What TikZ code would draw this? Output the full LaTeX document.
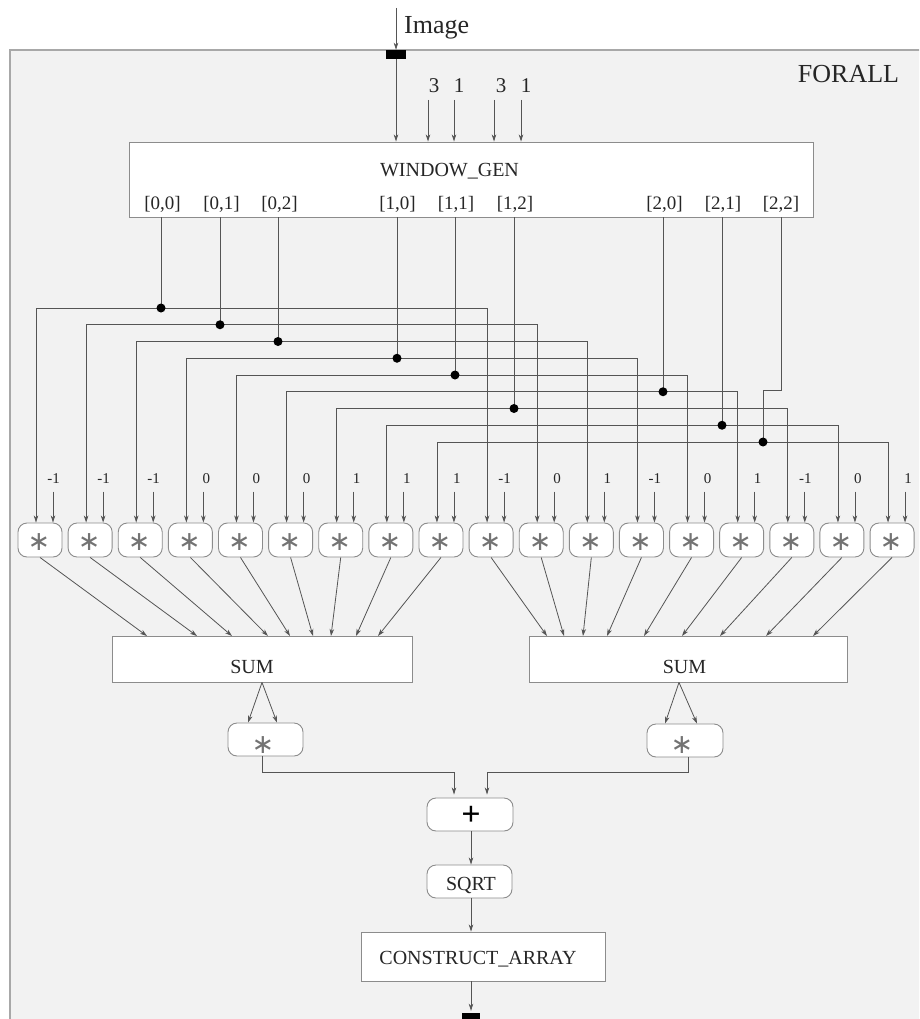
\documentclass[tikz,border=0pt]{standalone}
\usepackage{fontspec}
\setmainfont{Liberation Serif}
\newfontfamily\symfont{DejaVu Sans}
\usetikzlibrary{arrows.meta,calc}
\definecolor{framebg}{HTML}{F2F2F2}
\definecolor{framec}{HTML}{A8A8A8}
\definecolor{wirec}{HTML}{555555}
\definecolor{boxc}{HTML}{8C8C8C}
\definecolor{txtc}{HTML}{262626}
\newcommand\fsz[1]{\fontsize{#1}{#1}\selectfont}
\begin{document}
\begin{tikzpicture}[x=1pt,y=-1pt,
  arr/.style={draw=wirec,line width=0.8pt,-{Stealth[length=7pt,width=4.5pt,inset=2pt]}},
  wire/.style={draw=wirec,line width=0.8pt},
  sqbox/.style={draw=boxc,fill=white,line width=0.9pt,inner sep=0pt},
  rbox/.style={sqbox,rounded corners=9pt},
  lbl/.style={text=txtc,inner sep=0pt,anchor=base},
  jdot/.style={circle,fill=black,inner sep=0pt,minimum size=9pt},
  portsq/.style={fill=black,inner sep=0pt,minimum width=20pt,minimum height=9pt},
  startxt/.style={text=black!55,inner sep=0pt,font=\symfont\fsz{27}}]
\useasboundingbox (0,0) rectangle (919,1019);
\clip (0,0) rectangle (919,1019);
\fill[white] (0,0) rectangle (919,1019);
\filldraw[fill=framebg,draw=framec,line width=1.6pt] (10,50) rectangle (950,1050);

\node[lbl,font=\fsz{26}] (forall) at (848.5,83) {FORALL};
\node[lbl,font=\fsz{26},anchor=base west] (imgt) at (404,34) {Image};

% input port
\node[portsq] (inport) at (396,54.5) {};
\coordinate (imgsrc) at (396,8);
\draw[arr] (imgsrc) -- (inport.north);

% window generator
\node[sqbox,minimum width=684pt,minimum height=75pt] (wg) at (471,179.5) {};
\node[lbl,font=\fsz{20}] (wgt) at (449.5,176) {WINDOW\_GEN};
\draw[arr] (inport.south) -- (inport.south |- wg.north);

\foreach \pv/\lx/\ax [count=\j] in {3/434/428,1/459/454,3/501/494,1/526/521}{
  \node[lbl,font=\fsz{21}] (k\j) at (\lx,93) {\pv};
  \coordinate (ka\j) at (\ax,100);
  \draw[arr] (ka\j) -- (ka\j |- wg.north);
}

\foreach \pt/\px [count=\j] in {{[0,0]}/162.5,{[0,1]}/221.5,{[0,2]}/279.5,{[1,0]}/397.5,{[1,1]}/456,{[1,2]}/515,{[2,0]}/664.5,{[2,1]}/723,{[2,2]}/781}{
  \node[lbl,font=\fsz{19}] (pl\j) at (\px,209.5) {\pt};
}

% multipliers
\foreach \cv [count=\i] in {{\llap{-}1},{\llap{-}1},{\llap{-}1},0,0,0,1,1,1,{\llap{-}1},0,1,{\llap{-}1},0,1,{\llap{-}1},0,1}{
  \pgfmathsetmacro\cx{40+50.12*(\i-1)}
  \node[rbox,minimum width=44pt,minimum height=34pt] (m\i) at (\cx,540) {};
  \node[startxt] (ms\i) at (\cx-1,542) {∗};
  \coordinate (w\i) at ($(m\i.north)+(-4,0)$);
  \coordinate (ca\i) at ($(m\i.north)+(13,-31)$);
  \node[lbl,font=\fsz{15}] (c\i) at (\cx+16,483) {\cv};
  \draw[arr] (ca\i) -- (ca\i |- m\i.north);
}

% distribution wires
\foreach \k/\dx in {1/161,2/220,3/278,4/397,5/455,6/663,7/514,8/722,9/763}{
  \pgfmathsetmacro\dy{308+16.75*(\k-1)}
  \pgfmathtruncatemacro\kk{\k+9}
  \coordinate (dp\k) at (\dx,\dy);
  \draw[arr] (dp\k) -| (w\k);
  \draw[arr] (dp\k) -| (w\kk);
}
\foreach \k in {1,...,8}{
  \draw[wire] (dp\k |- wg.south) -- (dp\k);
}
\coordinate (jog) at (763,390);
\draw[wire] (pl9 |- wg.south) |- (jog) -- (dp9);
\foreach \k in {1,...,9}{
  \node[jdot] (dot\k) at (dp\k) {};
}

% sums
\node[sqbox,minimum width=300pt,minimum height=46pt] (sum1) at (262,659) {};
\node[lbl,font=\fsz{20}] (sum1t) at (252,673.5) {SUM};
\node[sqbox,minimum width=318pt,minimum height=46pt] (sum2) at (688,659) {};
\node[lbl,font=\fsz{20}] (sum2t) at (684.5,673.5) {SUM};

\foreach \tx [count=\i] in {147,197,232,268,290,313,331,356,378,547,564,583,607,644,682,720,766,813}{
  \coordinate (t\i) at (\tx,636);
  \draw[arr] (m\i.south) -- (t\i);
}

% squaring multipliers
\node[rbox,minimum width=75pt,minimum height=33pt] (sq1) at (265.5,739.5) {};
\node[startxt] (sq1s) at (263,745.5) {∗};
\node[rbox,minimum width=76pt,minimum height=33pt] (sq2) at (685,740.5) {};
\node[startxt] (sq2s) at (682,745.5) {∗};

\draw[arr] (sum1.south) -- ($(sq1.north)+(-17.5,0)$);
\draw[arr] (sum1.south) -- ($(sq1.north)+(11.5,0)$);
\coordinate (s2o) at ($(sum2.south)+(-9,0)$);
\draw[arr] (s2o) -- ($(sq2.north)+(-20,0)$);
\draw[arr] (s2o) -- ($(sq2.north)+(12,0)$);

% tail
\node[rbox,minimum width=86pt,minimum height=33pt] (addbox) at (470,814.5) {};
\node[inner sep=0pt,text=black,font=\fsz{34}\bfseries] (addsym) at (471,816) {+};
\node[rbox,minimum width=85pt,minimum height=33pt] (rootbox) at (469.5,881.5) {};
\node[lbl,font=\fsz{20}] (roottxt) at (471,890.5) {SQRT};
\node[sqbox,minimum width=244pt,minimum height=49pt] (cabox) at (483,956.5) {};
\node[lbl,font=\fsz{20}] (catxt) at (478,964.5) {CONSTRUCT\_ARRAY};
\node[portsq,minimum width=18pt] (outport) at (471,1017.5) {};

\coordinate (o1) at ($(sq1.south)+(-3.5,0)$);
\coordinate (o2) at ($(sq2.south)+(3,0)$);
\coordinate (pin1) at ($(addbox.north)+(-16,0)$);
\coordinate (pin2) at ($(addbox.north)+(17,0)$);
\coordinate (row) at (0,772);
\draw[arr,shorten >=3pt] (o1) -- (o1 |- row) -- (pin1 |- row) -- (pin1);
\draw[arr,shorten >=3pt] (o2) -- (o2 |- row) -- (pin2 |- row) -- (pin2);
\coordinate (vx) at (471,0);
\draw[arr] (vx |- addbox.south) -- (vx |- rootbox.north);
\draw[arr] (vx |- rootbox.south) -- (vx |- cabox.north);
\draw[arr,shorten >=2pt] (vx |- cabox.south) -- (outport.north);
\end{tikzpicture}
\end{document}
